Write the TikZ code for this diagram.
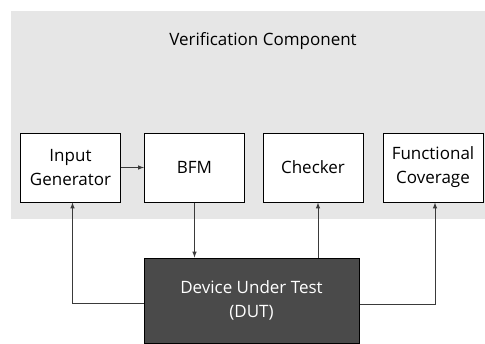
\documentclass[tikz,border=0pt]{standalone}
\usepackage{fontspec}
\setmainfont{Open Sans}
\definecolor{vcgray}{HTML}{E6E6E6}
\definecolor{dutgray}{HTML}{4A4A4A}
\definecolor{wiregray}{HTML}{3A3A3A}
\tikzset{
  blk/.style={rectangle, draw=black, line width=1pt, fill=white, minimum width=100, minimum height=69, align=center, font=\fontsize{17}{24}\selectfont},
  wire/.style={draw=wiregray, line width=1pt, -latex}
}
\begin{document}
\begin{tikzpicture}[x=1pt,y=-1pt]
\useasboundingbox (0,0) rectangle (485,343);
\fill[vcgray] (11,11) rectangle (485,219);
\node[font=\fontsize{17}{20}\selectfont] (vctitle) at (263,41){Verification Component};
\node[blk] (inp) at (70.5,167.5){Input\\Generator};
\node[blk] (bfm) at (194.5,167.5){BFM};
\node[blk] (chk) at (313,167.5){Checker};
\node[blk] (cov) at (433,167.5){Functional\\Coverage};
\node[blk, fill=dutgray, text=white, minimum width=215, minimum height=85] (dut) at (251.5,300.5){\raisebox{-5pt}{\parbox{150pt}{\centering Device Under Test\\(DUT)}}};
\draw[wire](inp) -- (bfm);
\draw[wire](bfm.south) -- (bfm.south |- dut.north);
\draw[wire]([xshift=5]chk.south |- dut.north) -- ([xshift=5]chk.south);
\draw[wire]([yshift=-3]dut.west) -| ([xshift=2]inp.south);
\draw[wire]([yshift=-4]dut.east) -| ([xshift=2]cov.south);
\end{tikzpicture}
\end{document}
